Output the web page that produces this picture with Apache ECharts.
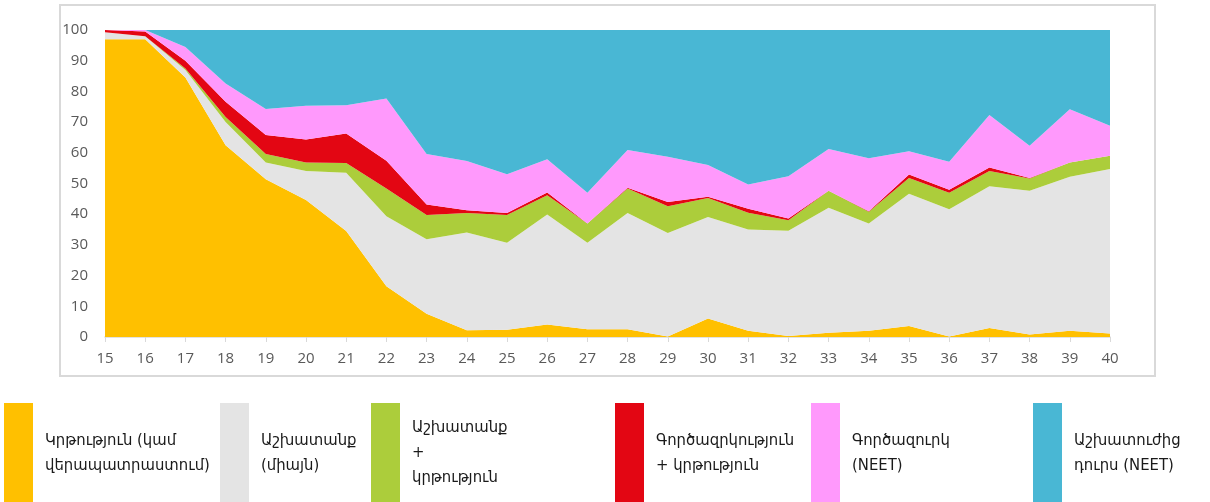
<!DOCTYPE html>
<html>
<head>
<meta charset="utf-8">
<script src="https://cdn.jsdelivr.net/npm/echarts@6/dist/echarts.min.js"></script>
<style>
  html, body { margin: 0; padding: 0; background: #fff; }
  #main { width: 1210px; height: 502px; }
</style>
</head>
<body>
<div id="main"></div>
<script>
// տարիք
var ages = ['15','16','17','18','19','20','21','22','23','24','25','26','27','28','29','30','31','32','33','34','35','36','37','38','39','40'];

var names = [
    'Կրթություն (կամ\nվերապատրաստում)',
    'Աշխատանք\n(միայն)',
    'Աշխատանք\n+\nկրթություն',
    'Գործազրկություն\n+ կրթություն',
    'Գործազուրկ\n(NEET)',
    'Աշխատուժից\nդուրս (NEET)'
];
var colors = ['#FFC000', '#E4E4E4', '#ACCD3B', '#E30613', '#FF99FC', '#49B7D4'];

var education  = [97, 97, 84.5, 62.5, 51.4, 44.6, 34.5, 16.5, 7.6, 2.2, 2.4, 4.1, 2.5, 2.5, 0.2, 6, 2, 0.3, 1.4, 2, 3.6, 0.2, 2.9, 0.8, 2, 1.1];
var workOnly   = [2.3, 1, 2.5, 7.5, 5.4, 9.5, 19, 22.8, 24.2, 31.8, 28.3, 35.8, 28.2, 37.9, 33.7, 33.1, 33, 34.3, 40.7, 35, 43.1, 41.4, 46.2, 46.8, 50.2, 53.6];
var workEdu    = [0, 0, 0.5, 1.7, 2.8, 2.7, 3.2, 9.1, 7.9, 6.4, 9, 6.3, 6.3, 8, 8.7, 6.2, 5.5, 3.4, 5.5, 3.8, 5.1, 5.4, 5, 4, 4.6, 4.3];
var unempEdu   = [0.7, 1.5, 2.5, 4.9, 6.2, 7.5, 9.6, 9, 3.5, 0.9, 0.7, 0.9, 0, 0.2, 1.4, 0.4, 1.3, 0.6, 0, 0.2, 1.1, 1, 1.1, 0.2, 0, 0];
var unempNeet  = [0, 0.5, 4.5, 6, 8.5, 11, 9.2, 20.3, 16.4, 16, 12.6, 10.8, 10, 12.3, 14.7, 10.3, 7.9, 13.8, 13.6, 17.2, 7.6, 9.1, 17.1, 10.5, 17.4, 9.8];
var inactive   = [0, 0, 5.5, 17.4, 25.7, 24.7, 24.5, 22.3, 40.4, 42.7, 47, 42.1, 53, 39.1, 41.3, 44, 50.3, 47.6, 38.8, 41.8, 39.5, 42.9, 27.7, 37.7, 25.8, 31.2];

var yTicks = [0, 100, 10];

var allData = [education, workOnly, workEdu, unempEdu, unempNeet, inactive];
var legendLeft = [4, 220, 371, 615, 811, 1033];

var myChart = echarts.init(document.getElementById('main'));

var series = [];
var legends = [];
for (var i = 0; i < names.length; i++) {
    series.push({
        name: names[i],
        type: 'line',
        stack: 'total',
        symbol: 'none',
        lineStyle: { width: 0 },
        areaStyle: { color: colors[i], opacity: 1 },
        itemStyle: { color: colors[i] },
        emphasis: { disabled: true },
        data: allData[i]
    });
    legends.push({
        data: [names[i]],
        left: legendLeft[i],
        top: 403,
        padding: 0,
        icon: 'rect',
        itemWidth: 29,
        itemHeight: 100,
        itemGap: 12,
        selectedMode: false,
        textStyle: {
            fontFamily: 'DejaVu Sans Condensed, DejaVu Sans',
            fontSize: 16.5,
            lineHeight: 25,
            color: '#1a1a1a',
            padding: [0, 0, 0, 7]
        }
    });
}

option = {
    animation: false,
    grid: { left: 105, right: 100, top: 30, height: 307 },
    legend: legends,
    graphic: [{
        type: 'rect',
        shape: { x: 60, y: 5, width: 1095, height: 371 },
        style: { fill: 'none', stroke: '#d9d9d9', lineWidth: 2 },
        z: -1
    }],
    xAxis: {
        type: 'category',
        boundaryGap: false,
        data: ages,
        axisLine: { lineStyle: { color: '#d9d9d9', width: 1.5 } },
        axisTick: { show: true, length: 5, lineStyle: { color: '#d9d9d9' } },
        axisLabel: { color: '#595959', fontSize: 15, fontFamily: 'Open Sans', margin: 14 }
    },
    yAxis: {
        type: 'value',
        min: yTicks[0],
        max: yTicks[1],
        interval: yTicks[2],
        splitLine: { show: false },
        axisLine: { show: false },
        axisTick: { show: false },
        axisLabel: { color: '#595959', fontSize: 15, fontFamily: 'Open Sans', margin: 17 }
    },
    series: series
};

myChart.setOption(option);
</script>
</body>
</html>
